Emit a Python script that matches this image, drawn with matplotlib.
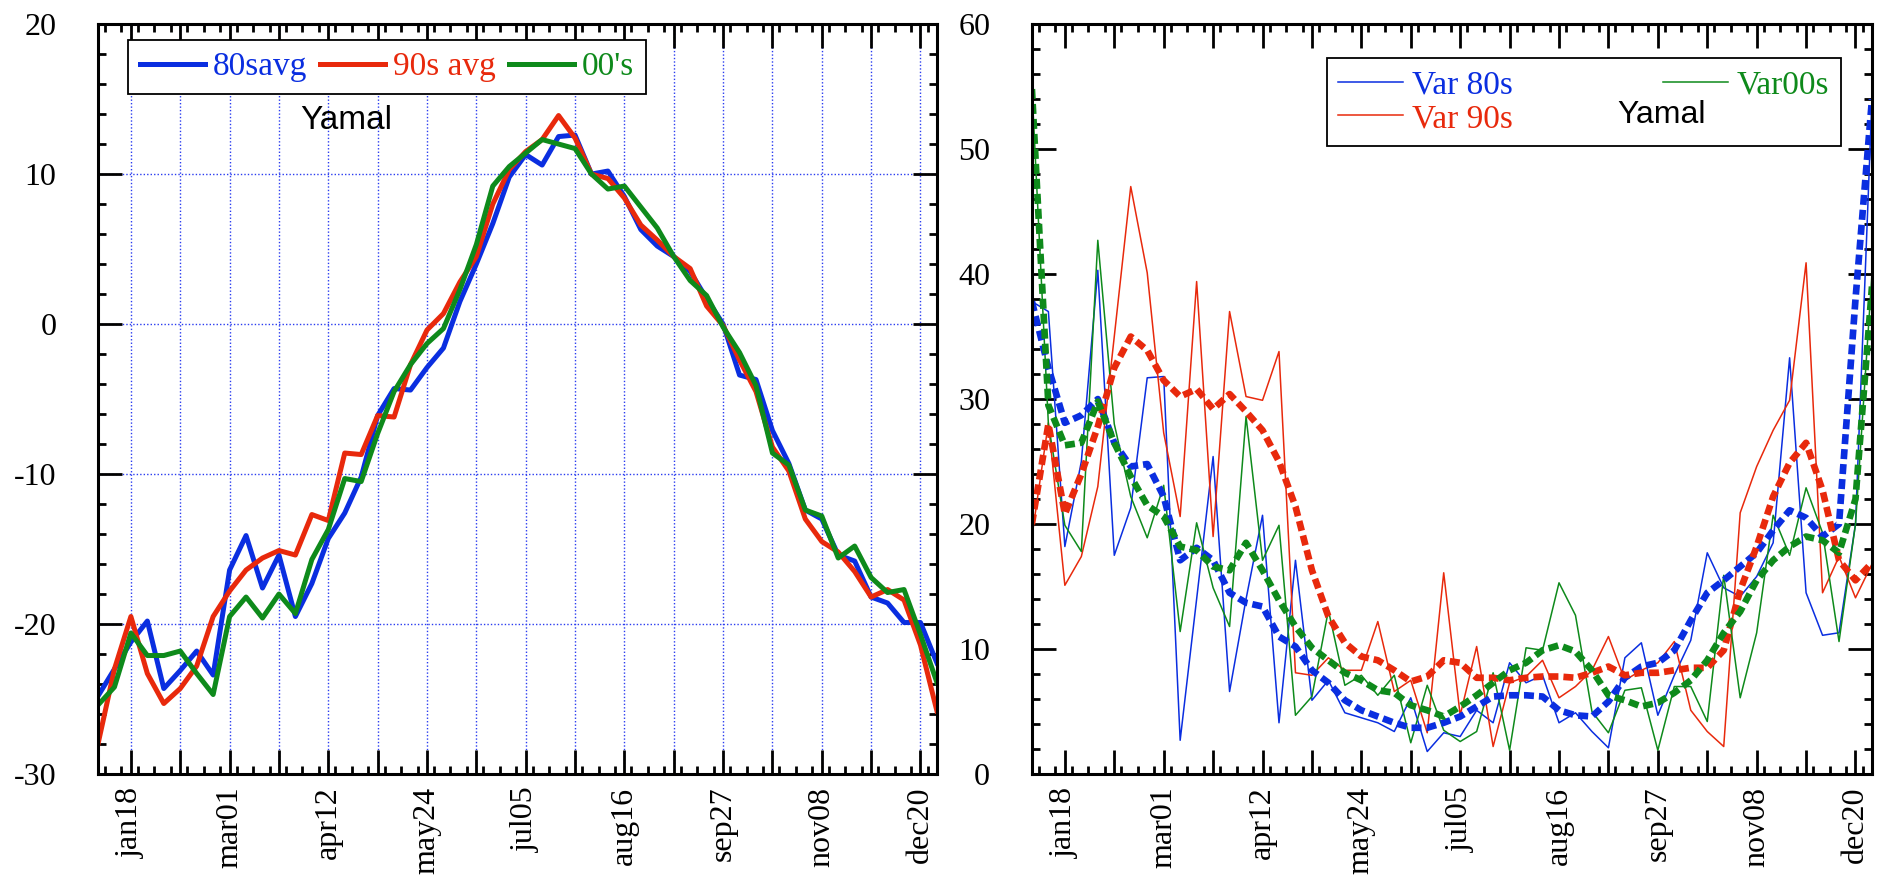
import numpy as np
import matplotlib
matplotlib.use("Agg")
import matplotlib.pyplot as plt
from matplotlib.ticker import FixedLocator, MultipleLocator

# weekly values, first week starts jan04
avg80 = [-24.8, -23.0, -21.2, -19.8, -24.3, -23.1, -21.8, -23.4, -16.4, -14.1, -17.6, -15.4, -19.5,
         -17.3, -14.3, -12.6, -10.2, -6.1, -4.3, -4.4, -2.9, -1.6, 1.5, 4.0, 6.7, 9.8, 11.3, 10.6,
         12.5, 12.6, 10.0, 10.2, 8.5, 6.3, 5.2, 4.5, 3.5, 1.7, 0.0, -3.4, -3.7, -7.1, -9.3, -12.4,
         -13.0, -15.4, -15.8, -18.2, -18.6, -19.9, -19.9, -22.6]
avg90 = [-28.0, -23.0, -19.5, -23.3, -25.3, -24.3, -22.8, -19.5, -17.8, -16.4, -15.6, -15.1, -15.4,
         -12.7, -13.1, -8.6, -8.7, -6.1, -6.2, -2.7, -0.4, 0.7, 2.8, 4.5, 8.0, 10.3, 11.5, 12.3,
         13.9, 12.4, 10.0, 9.7, 8.4, 6.6, 5.6, 4.5, 3.7, 1.2, -0.1, -2.4, -4.5, -8.2, -9.8, -13.0,
         -14.5, -15.2, -16.5, -18.2, -17.7, -18.4, -21.4, -25.8]
avg00 = [-25.4, -24.2, -20.6, -22.1, -22.1, -21.8, -23.3, -24.7, -19.5, -18.2, -19.6, -18.0, -19.3,
         -15.7, -13.7, -10.3, -10.5, -7.3, -4.5, -2.7, -1.3, -0.3, 2.3, 5.3, 9.2, 10.5, 11.4, 12.3,
         12.0, 11.7, 10.0, 9.0, 9.2, 7.8, 6.4, 4.5, 2.9, 1.9, -0.2, -1.9, -4.1, -8.6, -9.4, -12.4,
         -12.8, -15.6, -14.8, -16.9, -17.9, -17.7, -20.7, -23.9]

var80 = [37.8, 37.0, 18.2, 25.0, 40.3, 17.5, 21.3, 31.7, 31.8, 2.7, 14.0, 25.4, 6.6, 14.0, 20.7,
         4.1, 17.1, 5.9, 7.5, 4.9, 4.5, 4.1, 3.4, 6.1, 1.8, 3.3, 3.0, 5.1, 4.1, 8.9, 7.3, 7.9, 4.1,
         4.9, 3.4, 2.1, 9.3, 10.5, 4.7, 7.9, 10.7, 17.7, 14.9, 14.2, 15.8, 18.5, 33.3, 14.5, 11.1,
         11.3, 20.0, 54.0]
var90 = [19.0, 28.1, 15.1, 17.4, 23.0, 35.0, 47.0, 40.1, 27.3, 20.6, 39.4, 19.0, 37.0, 30.2, 29.9,
         33.8, 8.1, 7.9, 9.3, 8.3, 8.3, 12.2, 6.6, 7.5, 3.3, 16.1, 4.7, 10.2, 2.2, 7.3, 7.8, 9.1,
         6.1, 7.0, 8.3, 11.0, 7.5, 8.3, 8.9, 10.6, 5.1, 3.4, 2.2, 20.9, 24.6, 27.5, 29.9, 40.9,
         14.5, 17.4, 14.1, 16.8]
var00 = [54.9, 28.0, 19.9, 17.8, 42.7, 28.0, 22.2, 18.9, 23.1, 11.4, 20.1, 14.9, 11.8, 28.6, 17.1,
         19.9, 4.7, 6.2, 13.1, 7.1, 7.9, 6.3, 7.9, 2.5, 7.1, 3.5, 2.6, 3.4, 8.1, 1.9, 10.1, 9.9,
         15.3, 12.7, 5.0, 3.3, 6.7, 6.9, 1.9, 7.0, 7.0, 4.2, 15.9, 6.1, 11.3, 20.7, 17.5, 22.9,
         19.3, 10.6, 20.0, 40.0]

# smoothed variance
smooth80 = [37.8, 32.5, 28.1, 28.7, 30.0, 26.5, 24.6, 24.8, 22.2, 17.1, 18.1, 17.1, 14.5, 13.7,
            13.4, 11.0, 10.2, 8.3, 7.3, 5.9, 5.1, 4.6, 4.1, 3.7, 3.7, 4.1, 4.6, 5.4, 6.2, 6.3, 6.3,
            6.2, 5.1, 4.7, 4.6, 5.8, 7.7, 8.6, 8.9, 9.9, 12.3, 14.5, 15.5, 16.6, 17.7, 19.5, 21.1,
            20.5, 19.0, 20.0, 38.0, 54.0]
smooth90 = [20.0, 28.0, 20.8, 24.0, 27.8, 32.5, 35.0, 33.9, 31.5, 30.2, 30.8, 29.2, 30.4, 29.0,
            27.5, 25.0, 21.4, 16.3, 12.6, 10.5, 9.4, 9.1, 8.3, 7.4, 7.8, 9.1, 8.9, 7.7, 7.7, 7.5,
            7.7, 7.8, 7.8, 7.7, 8.1, 8.6, 7.9, 8.1, 8.1, 8.3, 8.5, 8.5, 9.9, 14.7, 18.2, 22.2, 24.9,
            26.5, 22.7, 17.1, 15.5, 16.9]
smooth00 = [54.8, 29.5, 26.3, 26.5, 29.8, 26.5, 23.8, 21.5, 20.6, 18.2, 17.9, 16.6, 16.3, 18.5,
            16.3, 13.9, 11.8, 10.1, 9.1, 8.1, 7.5, 6.7, 6.5, 5.5, 5.1, 4.6, 5.4, 6.3, 7.3, 8.3, 8.9,
            9.9, 10.3, 9.8, 8.3, 6.3, 5.9, 5.4, 5.7, 6.5, 7.5, 9.1, 11.3, 13.0, 15.5, 17.1, 18.2,
            19.0, 18.7, 17.7, 22.0, 39.0]

date_labels = ['jan18', 'mar01', 'apr12', 'may24', 'jul05', 'aug16', 'sep27', 'nov08', 'dec20']

days = 4 + 7 * np.arange(len(avg80))      # day of year of each week
major_days = np.arange(18, 355, 21)        # a tick every 3 weeks
tick_text = [date_labels[i // 2] if i % 2 == 0 else '' for i in range(len(major_days))]

BLUE = '#0a2ee0'
RED = '#e8290c'
GREEN = '#0e8a1b'
SERIF = 'Liberation Serif'
SANS = 'Liberation Sans'

plt.rcParams['font.family'] = SERIF
plt.rcParams['lines.scale_dashes'] = False
plt.rcParams['axes.unicode_minus'] = False

fig = plt.figure(figsize=(18.81, 8.75), dpi=100)
ax1 = fig.add_axes([0.0521, 0.1154, 0.4460, 0.8571])
ax2 = fig.add_axes([0.5486, 0.1154, 0.4466, 0.8571])


def style_axes(ax, ypad):
    ax.set_xlim(4, 361)
    ax.xaxis.set_major_locator(FixedLocator(major_days))
    ax.xaxis.set_minor_locator(MultipleLocator(7))
    ax.set_xticklabels(tick_text, rotation=90)
    ax.yaxis.set_minor_locator(MultipleLocator(2))
    ax.yaxis.set_major_locator(MultipleLocator(10))
    ax.tick_params(which='both', direction='in', top=True, right=True, width=2)
    ax.tick_params(which='major', length=17)
    ax.tick_params(which='minor', length=6)
    ax.tick_params(axis='y', pad=ypad, labelsize=23)
    ax.tick_params(axis='x', pad=9, labelsize=23)
    for s in ax.spines.values():
        s.set_linewidth(2.2)


# left panel: weekly mean temperature
style_axes(ax1, 30)
ax1.set_ylim(-30, 20)
ax1.grid(True, which='major', color='#2a3cf0', linestyle=(0, (1, 1.5)), linewidth=1.0)
ax1.plot(days, avg80, color=BLUE, lw=3.6, label='80savg')
ax1.plot(days, avg90, color=RED, lw=3.6, label='90s avg')
ax1.plot(days, avg00, color=GREEN, lw=3.6, label="00's")
leg1 = ax1.legend(loc='upper left', bbox_to_anchor=(0.0358, 0.9787), borderaxespad=0,
                  ncol=3, fontsize=24, handlelength=1.95, handletextpad=0.25,
                  columnspacing=0.38, borderpad=0.35, fancybox=False, framealpha=1,
                  edgecolor='black')
leg1.get_frame().set_linewidth(1.3)
for txt, c in zip(leg1.get_texts(), [BLUE, RED, GREEN]):
    txt.set_color(c)
ax1.text(0.296, 0.872, 'Yamal', transform=ax1.transAxes, ha='center', va='center',
         fontsize=24, family=SANS)

# right panel: weekly variance
style_axes(ax2, 30)
ax2.set_ylim(0, 60)
ax2.plot(days, var80, color=BLUE, lw=1.1, label='Var 80s')
ax2.plot(days, var90, color=RED, lw=1.1, label='Var 90s')
ax2.plot(days, var00, color=GREEN, lw=1.1, label='Var00s')
dash = (0, (7.2, 3.6))
ax2.plot(days, smooth80, color=BLUE, lw=4.8, linestyle=dash)
ax2.plot(days, smooth90, color=RED, lw=4.8, linestyle=dash)
ax2.plot(days, smooth00, color=GREEN, lw=4.8, linestyle=dash)
handles, labels = ax2.get_legend_handles_labels()
leg2 = ax2.legend(handles[:3], labels[:3], loc='upper left', mode='expand',
                  bbox_to_anchor=(0.351, 0.5, 0.612, 0.4547), borderaxespad=0, ncol=2,
                  fontsize=24, handlelength=1.95, handletextpad=0.25, labelspacing=0.1,
                  borderpad=0.35, fancybox=False, framealpha=1, edgecolor='black')
leg2.get_frame().set_linewidth(1.3)
for txt, c in zip(leg2.get_texts(), [BLUE, RED, GREEN]):
    txt.set_color(c)
# the label sits inside the legend box, so keep it above the legend
ax2.text(0.749, 0.879, 'Yamal', transform=ax2.transAxes, ha='center', va='center',
         fontsize=23, family=SANS, zorder=10)

fig.savefig('out.png', dpi=100)
